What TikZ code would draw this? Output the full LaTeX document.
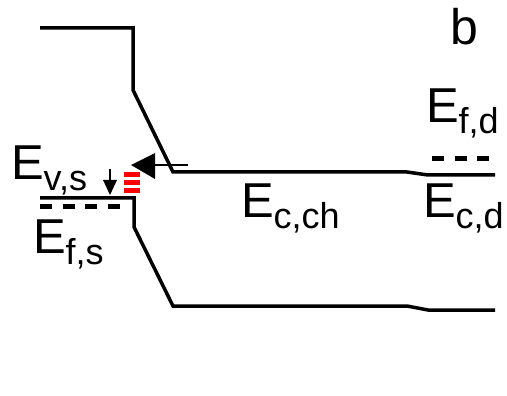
\documentclass[tikz,border=0pt]{standalone}
\usepackage{fontspec}
\setmainfont{Liberation Sans}
\newcommand{\elab}[2]{\fontsize{49}{49}\selectfont E\fontsize{36}{36}\selectfont\raisebox{-11pt}{#2}}
\begin{document}
\begin{tikzpicture}[x=1pt,y=-1pt,
  band/.style={line width=3.5pt,line join=miter},
  fermi/.style={line width=5pt,dash pattern=on 12pt off 10.5pt},
  lab/.style={anchor=base west,inner sep=0pt,outer sep=0pt},
  redbar/.style={fill=red,draw=none}]
\useasboundingbox (0,0) rectangle (507,396);
% upper band
\draw[band] (40,28) -- (133,28) -- (133,90) -- (173,172) -- (407,172) -- (428,175) -- (495,175);
% lower band
\draw[band] (40,198) -- (134,198) -- (134,227) -- (173,306) -- (407,306) -- (428,310) -- (495,310);
% Fermi levels
\draw[fermi] (40,207) -- (122,207);
\draw[fermi] (432,159) -- (490,159);
% red bars
\fill[redbar] (124,172) rectangle (140,177);
\fill[redbar] (124,180.5) rectangle (140,185.5);
\fill[redbar] (124,188) rectangle (140,193);
% big arrow
\coordinate (atip) at (131,165);
\coordinate (atail) at (188,165);
\draw[line width=2pt] (155,165) -- (atail);
\fill (atip) -- (155,153) -- (155,179) -- cycle;
% small down arrow
\coordinate (dtop) at (110,169);
\coordinate (dtip) at (110,195);
\draw[line width=1.5pt] (dtop) -- (110,182);
\fill (dtip) -- (103,180) -- (117,180) -- cycle;
% labels
\node[lab] (evs) at (11,179) {\elab{E}{v,s}};
\node[lab] (efs) at (33,253) {\elab{E}{f,s}};
\node[lab] (ecch) at (241,218) {\elab{E}{c,ch}};
\node[lab] (efd) at (426,123) {\elab{E}{f,d}};
\node[lab] (ecd) at (423,218) {\elab{E}{c,d}};
\node[lab] (b) at (450,45) {\fontsize{50}{50}\selectfont b};
\end{tikzpicture}
\end{document}
